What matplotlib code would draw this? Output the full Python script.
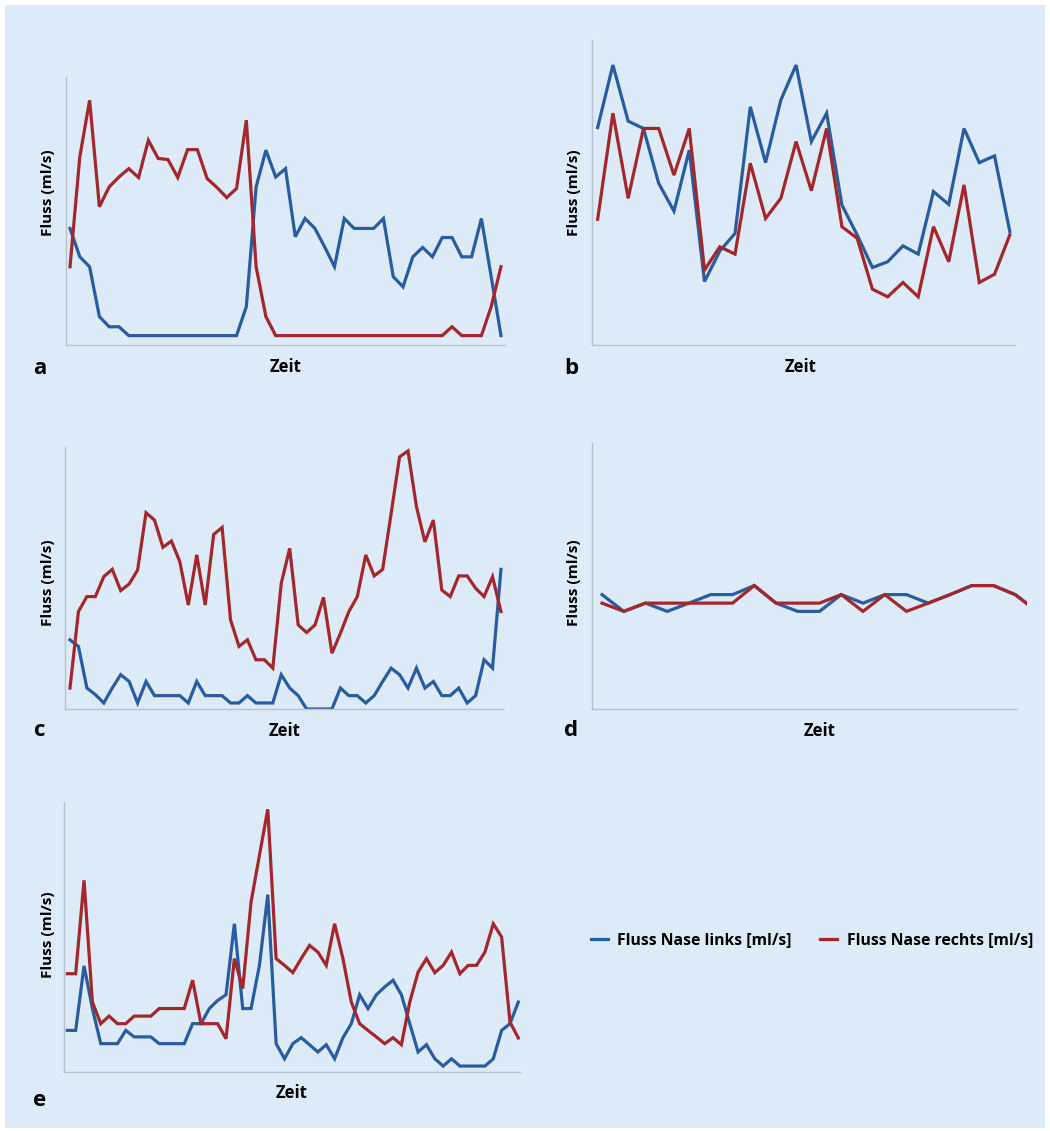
import matplotlib
matplotlib.use('Agg')
import matplotlib.pyplot as plt
from matplotlib.patches import Rectangle
from matplotlib.lines import Line2D

plt.rcParams['font.family'] = ['Open Sans', 'DejaVu Sans']

BLUE = '#2a5d9f'
RED = '#a3272b'
BG = '#ddeaf7'

# panel a
a_links = [43.5, 32.9, 29.2, 10.6, 6.8, 6.8, 3.5, 3.5, 3.5, 3.5, 3.5, 3.5, 3.5, 3.5, 3.5,
           3.5, 3.5, 3.5, 14.3, 59.0, 72.7, 62.7, 65.8, 40.4, 47.2, 43.5, 36.6, 29.2, 47.2,
           43.5, 43.5, 43.5, 47.2, 25.5, 21.7, 32.9, 36.4, 32.9, 40.1, 40.1, 32.9, 32.9,
           47.2, 25.5, 3.5]
a_rechts = [29.2, 70.2, 91.3, 51.6, 59.0, 62.7, 65.8, 62.5, 76.4, 69.6, 69.2, 62.5, 72.9,
            72.9, 62.1, 58.8, 55.0, 58.4, 83.9, 29.2, 10.6, 3.5, 3.5, 3.5, 3.5, 3.5, 3.5,
            3.5, 3.5, 3.5, 3.5, 3.5, 3.5, 3.5, 3.5, 3.5, 3.5, 3.5, 3.5, 6.8, 3.5, 3.5, 3.5,
            14.3, 29.2]

# panel b
b_links = [71.3, 91.8, 73.4, 71.0, 53.0, 43.9, 63.9, 20.8, 30.8, 36.6, 78.1, 59.8, 80.3,
           91.8, 66.7, 76.0, 45.9, 36.1, 25.4, 27.3, 32.5, 29.8, 50.3, 46.1, 71.0, 59.8,
           62.0, 37.2]
b_rechts = [41.2, 76.0, 48.1, 71.0, 71.0, 55.7, 71.0, 24.6, 32.2, 29.8, 59.6, 41.5, 48.1,
            66.7, 50.6, 71.0, 38.8, 35.0, 18.3, 15.8, 20.5, 15.8, 38.8, 27.3, 52.5, 20.5,
            23.2, 36.1]

# panel c
c_links = [26.4, 23.9, 8.0, 5.5, 2.3, 8.0, 13.1, 10.5, 2.3, 10.5, 5.1, 5.1, 5.1, 5.1, 2.3,
           10.5, 5.1, 5.1, 5.1, 2.3, 2.3, 5.1, 2.3, 2.3, 2.3, 13.1, 8.0, 5.1, 0, 0, 0, 0,
           8.0, 5.1, 5.1, 2.3, 5.1, 10.5, 15.6, 13.1, 8.0, 15.6, 8.0, 10.5, 5.1, 5.1, 8.0,
           2.3, 5.1, 18.8, 15.6, 53.3]
c_rechts = [8.0, 37.2, 42.9, 42.9, 50.5, 53.3, 45.2, 47.7, 53.0, 74.9, 72.1, 61.7, 64.1,
            56.2, 39.7, 58.8, 39.7, 66.6, 69.3, 34.0, 23.9, 26.4, 18.8, 18.8, 15.6, 48.0,
            61.3, 32.1, 29.2, 32.1, 42.6, 21.3, 28.9, 37.2, 42.9, 58.8, 50.8, 53.3, 74.6,
            96.2, 98.5, 77.2, 63.8, 72.1, 45.4, 42.9, 50.8, 50.8, 46.1, 42.9, 50.5, 37.2]

# panel d
d_links = [43.0, 36.7, 39.8, 36.7, 39.8, 43.0, 43.0, 46.4, 39.8, 36.7, 36.7, 43.0, 39.8,
           43.0, 43.0, 39.8, 43.0, 46.4, 46.4, 43.0, 36.7]
d_rechts = [39.8, 36.7, 39.8, 39.8, 39.8, 39.8, 39.8, 46.4, 39.8, 39.8, 39.8, 43.0, 36.7,
            43.0, 36.7, 39.8, 43.0, 46.4, 46.4, 43.0, 36.7]

# panel e
e_links = [15.4, 15.4, 39.3, 23.5, 10.5, 10.5, 10.5, 15.4, 13.0, 13.0, 13.0, 10.5, 10.5,
           10.5, 10.5, 17.9, 17.9, 23.5, 26.5, 28.6, 54.9, 23.5, 23.5, 39.5, 65.7, 10.5,
           4.9, 10.5, 12.7, 10.1, 7.4, 10.1, 4.9, 12.7, 17.9, 28.6, 23.5, 28.6, 31.5, 34.0,
           28.6, 17.9, 7.4, 10.1, 4.9, 2.2, 4.9, 2.2, 2.2, 2.2, 2.2, 4.9, 15.4, 17.9, 25.9]
e_rechts = [36.4, 36.4, 71.0, 25.9, 17.9, 20.7, 17.9, 17.9, 20.7, 20.7, 20.7, 23.5, 23.5,
            23.5, 23.5, 34.0, 17.9, 17.9, 17.9, 12.3, 42.0, 30.9, 63.0, 80.2, 97.3, 42.0,
            39.5, 36.8, 42.0, 46.9, 44.4, 39.5, 54.9, 42.0, 25.9, 17.9, 15.4, 13.0, 10.5,
            12.7, 10.1, 25.9, 37.0, 42.0, 36.8, 39.5, 44.4, 36.4, 39.5, 39.5, 44.4, 54.9,
            50.0, 18.5, 12.6]

legend_labels = ['Fluss Nase links [ml/s]', 'Fluss Nase rechts [ml/s]']

W, H = 1050, 1131
fig = plt.figure(figsize=(W / 100, H / 100), dpi=100)
fig.patch.set_facecolor('white')
fig.patches.append(Rectangle((5 / W, 1 - 1128 / H), 1040 / W, 1123 / H,
                             transform=fig.transFigure, facecolor=BG, edgecolor='none',
                             zorder=-10))


def px_axes(left, top, right, bottom):
    return fig.add_axes([left / W, 1 - bottom / H, (right - left) / W, (bottom - top) / H])


def panel(box, links, rechts, xlim, letter, label_pos, zeit_pos, letter_pos, spine_end=None):
    ax = px_axes(*box)
    ax.set_facecolor('none')
    ax.plot(range(len(links)), links, color=BLUE, lw=2.3, solid_joinstyle='miter')
    ax.plot(range(len(rechts)), rechts, color=RED, lw=2.3, solid_joinstyle='miter')
    ax.set_xlim(*xlim)
    ax.set_ylim(0, 100)
    ax.set_xticks([])
    ax.set_yticks([])
    for s in ['top', 'right']:
        ax.spines[s].set_visible(False)
    for s in ['left', 'bottom']:
        ax.spines[s].set_color('#b9c3cd')
        ax.spines[s].set_linewidth(1.0)
    if spine_end is not None:
        ax.spines['bottom'].set_bounds(xlim[0], spine_end)
    fig.text(label_pos[0] / W, 1 - label_pos[1] / H, 'Fluss (ml/s)', rotation=90,
             ha='center', va='center', fontsize=11, fontweight='bold')
    fig.text(zeit_pos[0] / W, 1 - zeit_pos[1] / H, 'Zeit', ha='center', va='center',
             fontsize=12, fontweight='bold')
    fig.text(letter_pos[0] / W, 1 - letter_pos[1] / H, letter, ha='center', va='center',
             fontsize=16, fontweight='bold')
    return ax


panel((66, 77, 505, 345), a_links, a_rechts, (-0.41, 44.41), 'a',
      (48, 193), (286, 367), (40, 368))
panel((592, 40, 1015, 345), b_links, b_rechts, (-0.37, 27.34), 'b',
      (574, 193), (801, 367), (571, 368))
panel((65, 447, 503, 709), c_links, c_rechts, (-0.59, 51.24), 'c',
      (48, 583), (285, 731), (40, 731))
panel((592, 443, 1027, 709), d_links, d_rechts, (-0.46, 19.54), 'd',
      (574, 583), (820, 731), (571, 731), spine_end=19.08)
panel((64, 802, 520, 1072), e_links, e_rechts, (-0.4, 54.2), 'e',
      (48, 935), (292, 1093), (40, 1100))

handles = [Line2D([], [], color=BLUE, lw=2.3), Line2D([], [], color=RED, lw=2.3)]
fig.legend(handles, legend_labels, loc='center', bbox_to_anchor=(812 / W, 1 - 940 / H),
           ncol=2, frameon=False, handlelength=1.1, handletextpad=0.6, columnspacing=1.8,
           prop={'weight': 'bold', 'size': 11.3})

fig.savefig('out.png', dpi=100, facecolor='white')
